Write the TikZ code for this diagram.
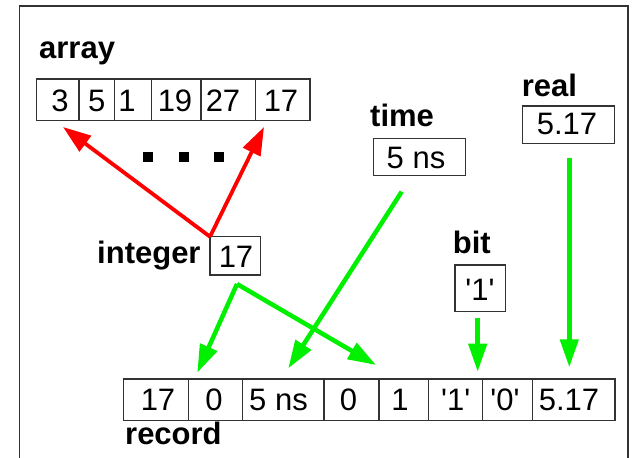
\documentclass[tikz,border=0pt]{standalone}
\usepackage{fontspec}
\setmainfont{Liberation Sans}[Ligatures=TeXOff]
\usetikzlibrary{arrows.meta}
\definecolor{gline}{HTML}{00F000}
\definecolor{rline}{HTML}{FF0000}
\definecolor{frame}{HTML}{333333}
\tikzset{
  cell/.style={draw=frame, line width=1.4pt, inner sep=0pt, outer sep=0pt, minimum height=41.7pt},
  num/.style={anchor=base, inner sep=0pt, font=\fontsize{31}{31}\selectfont},
  lbl/.style={anchor=base west, inner sep=0pt, font=\fontsize{31}{31}\selectfont\bfseries},
  garrow/.style={draw=gline, line width=4.5pt, -{Triangle[length=28pt,width=18pt]}},
  rarrow/.style={draw=rline, line width=3.8pt, -{Triangle[length=28pt,width=19pt]}},
  dotsq/.style={fill=black, inner sep=0pt, minimum size=10pt},
}
\begin{document}
\begin{tikzpicture}[x=1pt,y=-1pt]
\useasboundingbox (0,0) rectangle (633,458);
\fill[white] (0,0) rectangle (633,458);
% frame
\draw[frame, line width=1.5pt] (19.5,458) -- (19.5,6) -- (628,6) -- (628,458);

% array
\node[lbl] (larray) at (39,58) {array};
\node[cell, minimum width=42.3pt] (a1) at (57.85,99.85) {};
\node[cell, minimum width=35.3pt] (a2) at (96.65,99.85) {};
\node[cell, minimum width=37.4pt] (a3) at (133,99.85) {};
\node[cell, minimum width=49.3pt] (a4) at (176.35,99.85) {};
\node[cell, minimum width=54.7pt] (a5) at (228.35,99.85) {};
\node[cell, minimum width=54.3pt] (a6) at (282.85,99.85) {};
\node[num] (ta1) at (60,111.7) {3};
\node[num] (ta2) at (96.7,111.7) {5};
\node[num] (ta3) at (127,111.7) {1};
\node[num] (ta4) at (175,111.7) {19};
\node[num] (ta5) at (223,111.7) {27};
\node[num] (ta6) at (281,111.7) {17};
\node[dotsq] (d1) at (148,157) {};
\node[dotsq] (d2) at (184,157) {};
\node[dotsq] (d3) at (219,157) {};

% integer
\node[lbl] (lint) at (97,263) {integer};
\node[cell, minimum width=50.7pt, minimum height=38.3pt] (int) at (235.35,255.85) {};
\node[num] (tint) at (236,267) {17};

% time
\node[lbl] (ltime) at (370,126.7) {time};
\node[cell, minimum width=92.4pt, minimum height=37.4pt] (time) at (419.5,157) {};
\node[num] (ttime) at (416,168.3) {5 ns};

% real
\node[lbl] (lreal) at (521.7,96.7) {real};
\node[cell, minimum width=91.6pt, minimum height=37.3pt] (real) at (568.5,124.65) {};
\node[num] (treal) at (567,134) {5.17};

% bit
\node[lbl] (lbit) at (452.7,253.3) {bit};
\node[cell, minimum width=50.3pt, minimum height=46.7pt] (bit) at (480.15,288.35) {};
\node[num] (tbit) at (480,300) {'1'};

% record
\node[cell, minimum width=65pt] (r1) at (155.8,399.85) {};
\node[cell, minimum width=54.4pt] (r2) at (215.5,399.85) {};
\node[cell, minimum width=81.3pt] (r3) at (283.35,399.85) {};
\node[cell, minimum width=55pt] (r4) at (351.5,399.85) {};
\node[cell, minimum width=49.3pt] (r5) at (403.65,399.85) {};
\node[cell, minimum width=54.4pt] (r6) at (455.5,399.85) {};
\node[cell, minimum width=49.6pt] (r7) at (507.5,399.85) {};
\node[cell, minimum width=82.7pt] (r8) at (573.65,399.85) {};
\node[num] (tr1) at (158,410.7) {17};
\node[num] (tr2) at (214,410.7) {0};
\node[num] (tr3) at (278.5,410.7) {5 ns};
\node[num] (tr4) at (348.5,410.7) {0};
\node[num] (tr5) at (400,410.7) {1};
\node[num] (tr6) at (455.7,410.7) {'1'};
\node[num] (tr7) at (505,410.7) {'0'};
\node[num] (tr8) at (569,410.7) {5.17};
\node[lbl] (lrec) at (125,444) {record};

% connector end points
\coordinate (redL) at (63,127);
\coordinate (redR) at (264,127);
\coordinate (intS) at (237,284);
\coordinate (tipInt1) at (197.3,372.7);
\coordinate (tipInt2) at (376,365);
\coordinate (timeS) at (401.7,191.7);
\coordinate (tipTime) at (288.3,368.3);
\coordinate (bitS) at (477.7,317.7);
\coordinate (tipBit) at (477.7,371.7);
\coordinate (realS) at (569.3,158.3);
\coordinate (tipReal) at (569.3,367.3);

% red arrows
\draw[rarrow] (int.north west) -- (redL);
\draw[rarrow] (int.north west) -- (redR);

% green arrows
\draw[garrow] (intS) -- (tipInt1);
\draw[garrow] (intS) -- (tipInt2);
\draw[garrow] (timeS) -- (tipTime);
\draw[garrow] (bitS) -- (tipBit);
\draw[garrow] (realS) -- (tipReal);
\end{tikzpicture}
\end{document}
